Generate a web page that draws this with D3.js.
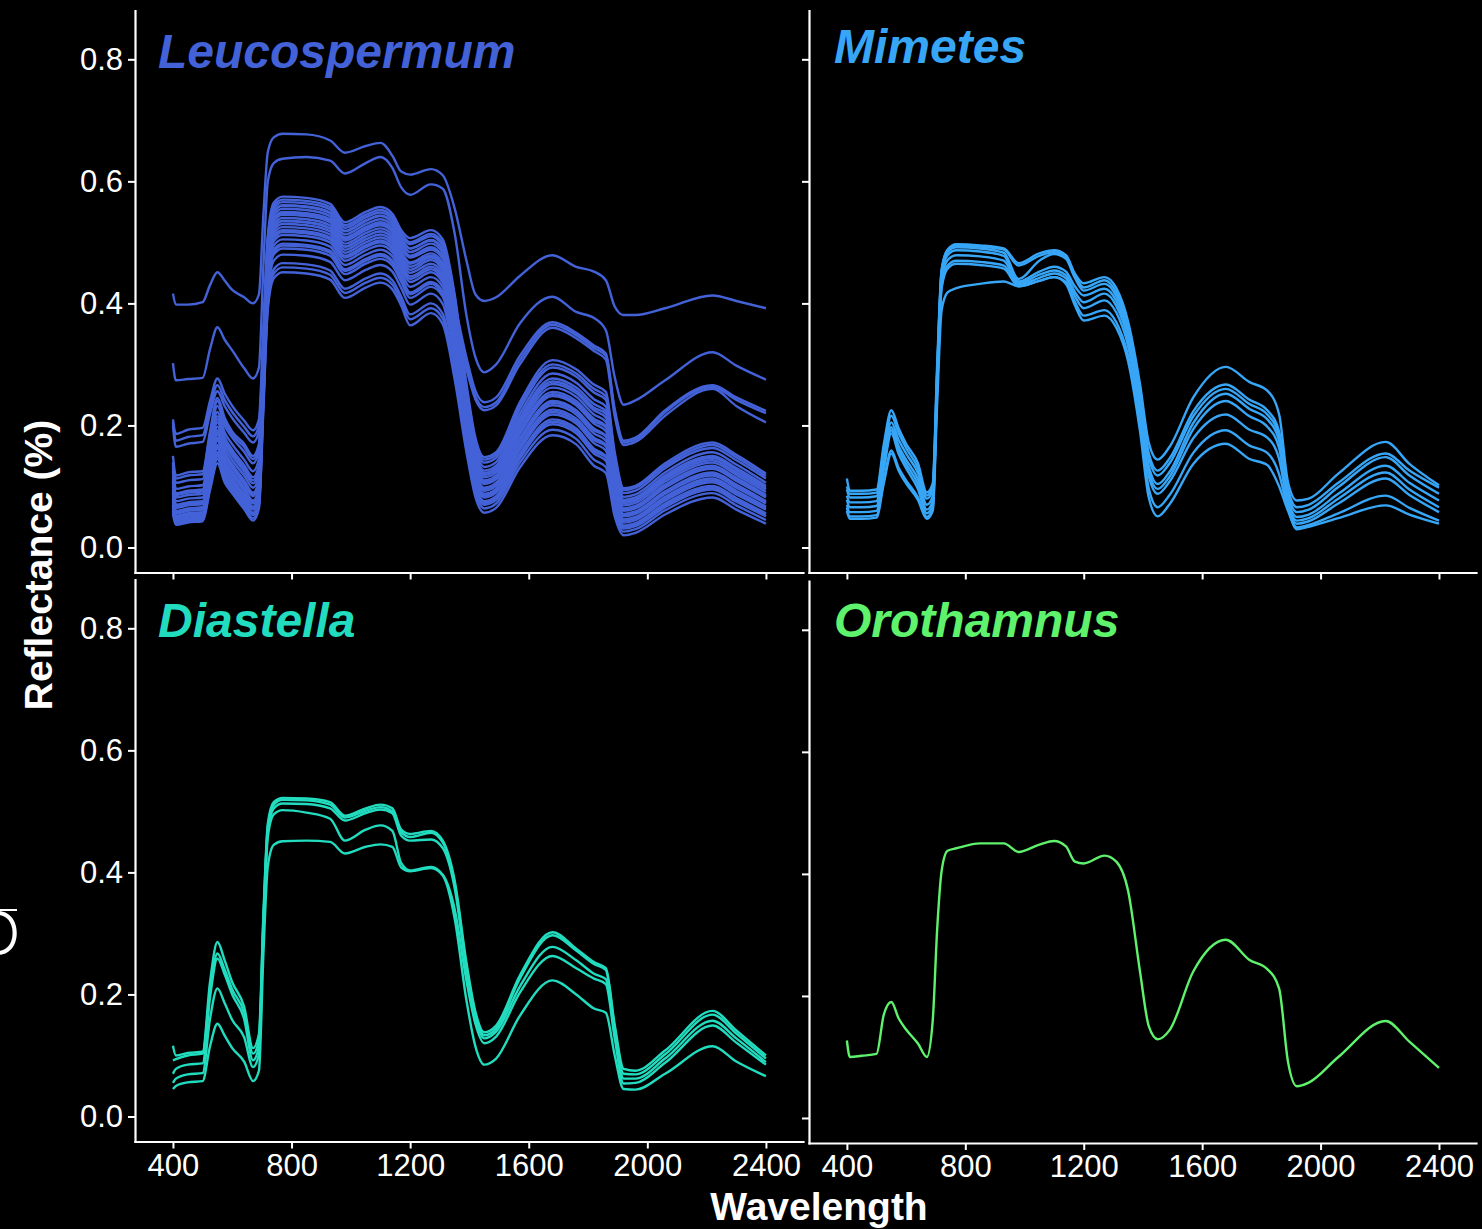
<!DOCTYPE html>
<html>
<head>
<meta charset="utf-8">
<script src="https://cdn.jsdelivr.net/npm/d3@7"></script>
<style>
  html, body { margin: 0; padding: 0; background: #000; }
  svg { display: block; }
</style>
</head>
<body>
<svg id="chart" width="1482" height="1229"></svg>
<script>
// Sampled wavelengths (nm) shared by every spectrum
const wavelengths = [400, 410, 450, 500, 525, 550, 575, 600, 640, 670,
  690, 705, 720, 740,
  770, 850, 930, 980, 1050, 1100, 1140, 1170, 1200, 1270, 1310,
  1350, 1390, 1420, 1450, 1490,
  1570, 1680, 1760, 1820, 1860,
  1890, 1920, 1960,
  2060, 2220, 2300, 2400];

const xTicks = [400, 800, 1200, 1600, 2000, 2400];
const yTicks = [0, 0.2, 0.4, 0.6, 0.8];
const genera = ["Leucospermum", "Mimetes", "Diastella", "Orothamnus"];

// Reflectance spectra, one row per leaf sample
const leucospermum = [
  [.416,.398,.398,.402,.430,.451,.437,.422,.410,.400, .415,.545,.648,.672, .678,.677,.667,.647,.658,.663,.642,.616,.611,.620,.610, .556,.470,.415,.404,.410, .445,.479,.460,.452,.438, .395,.381,.381, .392,.413,.404,.392],
  [.302,.274,.276,.278,.325,.361,.340,.323,.294,.277, .295,.460,.600,.630, .637,.640,.634,.613,.630,.640,.622,.590,.578,.595,.588, .515,.380,.312,.287,.300, .367,.411,.386,.376,.356, .279,.234,.241, .274,.320,.298,.275],
  [.210,.186,.193,.196,.240,.277,.252,.232,.208,.192, .210,.358,.505,.550, .560,.558,.548,.518,.535,.543,.532,.505,.490,.503,.488, .400,.311,.257,.238,.246, .314,.369,.352,.331,.318, .227,.175,.180, .225,.266,.246,.224],
  [.205,.175,.181,.184,.229,.266,.241,.222,.198,.182, .200,.345,.491,.535, .545,.543,.533,.503,.520,.528,.517,.490,.475,.488,.473, .385,.300,.248,.230,.238, .307,.365,.348,.327,.314, .222,.172,.177, .222,.263,.242,.220],
  [.200,.165,.170,.173,.219,.256,.231,.212,.188,.172, .190,.335,.481,.525, .535,.533,.523,.493,.510,.518,.507,.480,.465,.478,.463, .375,.292,.243,.225,.233, .300,.360,.343,.322,.308, .215,.168,.173, .216,.260,.232,.205],
  [.150,.118,.123,.125,.190,.245,.212,.190,.170,.150, .170,.341,.511,.565, .575,.573,.563,.533,.550,.558,.547,.520,.507,.520,.505, .415,.268,.180,.148,.156, .238,.307,.292,.267,.255, .156,.097,.101, .138,.172,.152,.121],
  [.130,.113,.118,.120,.185,.240,.207,.185,.165,.145, .165,.336,.506,.560, .570,.568,.558,.528,.545,.553,.542,.515,.500,.514,.499, .410,.262,.175,.144,.152, .233,.300,.285,.260,.248, .150,.094,.098, .134,.168,.148,.117],
  [.135,.106,.110,.112,.177,.232,.199,.180,.157,.138, .158,.323,.487,.538, .548,.546,.536,.506,.523,.531,.520,.493,.476,.490,.475, .385,.250,.169,.139,.147, .227,.295,.280,.254,.242, .146,.089,.093, .130,.163,.143,.113],
  [.140,.096,.100,.102,.167,.222,.188,.169,.144,.125, .145,.323,.500,.556, .566,.564,.554,.524,.541,.549,.538,.511,.497,.510,.495, .405,.255,.165,.132,.140, .219,.285,.270,.243,.231, .137,.083,.087, .123,.156,.136,.106],
  [.115,.089,.093,.095,.160,.215,.180,.160,.135,.115, .135,.302,.468,.520, .530,.528,.518,.488,.505,.513,.502,.475,.455,.471,.455, .365,.234,.155,.126,.134, .212,.277,.262,.235,.223, .131,.078,.082, .118,.150,.130,.101],
  [.105,.086,.090,.092,.156,.210,.175,.155,.130,.110, .130,.312,.494,.551, .561,.559,.549,.519,.536,.544,.533,.506,.490,.504,.489, .399,.248,.158,.122,.130, .208,.272,.257,.229,.219, .129,.076,.080, .115,.147,.127,.098],
  [.125,.082,.086,.088,.151,.205,.170,.150,.125,.105, .125,.308,.488,.545, .555,.553,.543,.513,.530,.538,.527,.500,.484,.498,.483, .393,.242,.152,.119,.127, .204,.268,.253,.225,.213, .123,.073,.077, .112,.143,.123,.095],
  [.100,.076,.080,.082,.145,.198,.163,.143,.118,.098, .118,.288,.457,.510, .520,.518,.508,.478,.495,.503,.492,.465,.444,.460,.443, .353,.222,.144,.115,.123, .199,.262,.247,.218,.206, .118,.069,.073, .108,.139,.119,.091],
  [.110,.070,.074,.076,.139,.192,.156,.136,.110,.090, .110,.293,.473,.530, .540,.538,.528,.498,.515,.523,.512,.485,.467,.482,.466, .376,.230,.142,.110,.118, .193,.255,.240,.211,.199, .112,.064,.068, .103,.134,.114,.086],
  [.090,.068,.072,.074,.136,.188,.153,.133,.107,.087, .107,.290,.475,.540, .550,.548,.538,.508,.525,.533,.522,.495,.478,.492,.477, .387,.228,.140,.107,.115, .190,.251,.236,.207,.197, .110,.062,.066, .100,.131,.111,.084],
  [.085,.065,.069,.071,.133,.185,.150,.130,.104,.084, .104,.273,.442,.495, .505,.503,.493,.463,.480,.488,.477,.450,.427,.443,.427, .337,.209,.132,.104,.112, .186,.248,.233,.203,.191, .106,.060,.064, .098,.129,.109,.082],
  [.095,.060,.064,.066,.127,.180,.144,.124,.098,.077, .097,.279,.458,.515, .525,.523,.513,.483,.500,.508,.497,.470,.450,.465,.449, .359,.215,.129,.098,.106, .179,.240,.225,.195,.183, .099,.055,.059, .092,.123,.103,.076],
  [.070,.058,.062,.064,.125,.178,.142,.122,.096,.075, .095,.283,.465,.525, .535,.533,.523,.493,.510,.518,.507,.480,.460,.475,.459, .369,.213,.126,.096,.104, .176,.237,.222,.192,.182, .097,.053,.057, .090,.121,.101,.074],
  [.075,.056,.060,.062,.123,.175,.139,.119,.093,.072, .092,.262,.432,.485, .495,.493,.483,.453,.470,.478,.467,.440,.415,.432,.415, .325,.197,.121,.093,.101, .173,.233,.218,.187,.175, .093,.051,.055, .088,.118,.098,.072],
  [.090,.052,.056,.058,.117,.168,.133,.113,.087,.067, .087,.267,.445,.502, .512,.510,.500,.470,.487,.495,.484,.457,.435,.451,.434, .344,.203,.119,.088,.096, .167,.226,.211,.180,.168, .087,.046,.050, .083,.113,.093,.067],
  [.062,.050,.054,.056,.115,.165,.130,.111,.085,.065, .085,.270,.449,.507, .517,.515,.505,.475,.492,.500,.489,.462,.440,.456,.439, .349,.199,.115,.085,.093, .163,.222,.207,.176,.166, .084,.044,.048, .080,.110,.090,.065],
  [.065,.048,.052,.054,.112,.162,.127,.108,.082,.062, .082,.250,.417,.470, .480,.478,.468,.438,.455,.463,.452,.425,.398,.416,.399, .309,.184,.109,.082,.090, .160,.218,.203,.171,.159, .080,.041,.045, .077,.107,.087,.062],
  [.080,.045,.049,.051,.108,.156,.121,.103,.077,.057, .077,.255,.432,.488, .498,.496,.486,.456,.473,.481,.470,.443,.418,.435,.419, .329,.190,.106,.076,.084, .153,.210,.195,.162,.150, .073,.036,.040, .072,.101,.081,.056],
  [.058,.043,.047,.049,.105,.153,.119,.100,.075,.055, .075,.250,.424,.480, .490,.488,.478,.448,.465,.473,.462,.435,.409,.427,.411, .321,.182,.102,.073,.081, .150,.206,.191,.158,.148, .070,.034,.038, .069,.098,.078,.054],
  [.060,.042,.046,.048,.103,.150,.116,.098,.072,.053, .073,.239,.404,.456, .466,.464,.454,.424,.441,.449,.438,.411,.382,.400,.383, .293,.170,.097,.070,.078, .146,.202,.187,.154,.142, .067,.031,.035, .066,.095,.075,.051],
  [.070,.039,.043,.045,.099,.145,.111,.093,.067,.048, .068,.233,.397,.449, .459,.457,.447,.417,.434,.442,.431,.404,.374,.392,.375, .285,.163,.091,.064,.072, .139,.193,.178,.144,.132, .059,.026,.030, .061,.089,.069,.045],
  [.055,.037,.041,.043,.094,.138,.106,.089,.063,.044, .064,.227,.390,.441, .451,.449,.439,.409,.426,.434,.423,.396,.364,.384,.366, .276,.156,.083,.057,.065, .131,.184,.169,.134,.122, .051,.020,.024, .054,.082,.062,.039]
];

const mimetes = [
  [.113,.093,.093,.095,.170,.225,.195,.170,.138,.090, .105,.300,.455,.488, .497,.495,.490,.466,.482,.487,.479,.449,.433,.443,.425, .370,.268,.171,.144,.165, .246,.296,.271,.257,.218, .107,.077,.080, .121,.173,.137,.102],
  [.100,.088,.088,.090,.162,.216,.187,.163,.130,.085, .100,.290,.454,.487, .495,.493,.488,.462,.478,.484,.476,.446,.426,.438,.418, .363,.256,.154,.126,.146, .223,.267,.242,.225,.190, .096,.066,.070, .106,.154,.126,.098],
  [.095,.082,.082,.084,.152,.205,.176,.154,.122,.080, .094,.286,.451,.484, .492,.490,.483,.440,.470,.481,.473,.442,.421,.432,.412, .357,.249,.147,.118,.138, .215,.260,.235,.218,.183, .088,.058,.062, .099,.148,.118,.088],
  [.085,.074,.074,.076,.143,.197,.166,.144,.112,.070, .084,.279,.445,.479, .487,.485,.478,.436,.452,.460,.452,.428,.413,.424,.404, .349,.239,.133,.104,.124, .204,.252,.227,.210,.175, .080,.050,.054, .088,.134,.106,.077],
  [.078,.066,.066,.068,.135,.192,.160,.137,.104,.062, .076,.271,.437,.471, .479,.477,.470,.433,.447,.454,.446,.419,.402,.416,.396, .341,.231,.125,.096,.116, .194,.240,.215,.198,.163, .074,.044,.048, .080,.123,.095,.066],
  [.070,.058,.058,.060,.128,.187,.153,.130,.096,.056, .070,.263,.429,.462, .470,.468,.462,.430,.442,.449,.441,.412,.392,.405,.385, .330,.221,.117,.088,.108, .179,.218,.193,.180,.145, .069,.039,.043, .072,.113,.086,.058],
  [.065,.051,.051,.053,.110,.159,.130,.110,.082,.050, .064,.258,.425,.457, .465,.463,.457,.428,.437,.443,.435,.403,.380,.389,.369, .314,.202,.096,.066,.086, .155,.192,.167,.155,.120, .063,.033,.037, .056,.085,.065,.044],
  [.060,.047,.047,.049,.106,.154,.126,.105,.078,.047, .060,.237,.389,.418, .425,.432,.436,.428,.437,.443,.432,.397,.372,.380,.360, .305,.191,.081,.051,.071, .137,.170,.145,.135,.100, .060,.030,.034, .048,.069,.054,.039]
];

const diastella = [
  [.116,.100,.104,.106,.220,.286,.255,.220,.180,.112, .135,.330,.480,.515, .522,.521,.515,.493,.505,.511,.505,.470,.463,.468,.452, .387,.252,.172,.138,.149, .231,.302,.275,.253,.243, .150,.078,.075, .108,.173,.141,.100],
  [.092,.094,.100,.103,.205,.267,.240,.208,.170,.103, .125,.322,.475,.511, .519,.518,.511,.490,.501,.507,.500,.466,.458,.465,.449, .382,.246,.167,.133,.144, .226,.297,.272,.250,.240, .145,.070,.069, .102,.167,.136,.095],
  [.070,.078,.085,.087,.195,.259,.232,.200,.160,.092, .115,.315,.468,.505, .513,.512,.505,.485,.497,.503,.497,.460,.452,.454,.440, .375,.240,.162,.128,.139, .213,.278,.256,.234,.225, .137,.062,.062, .095,.157,.128,.089],
  [.055,.062,.069,.071,.160,.210,.185,.158,.130,.081, .102,.305,.458,.495, .502,.498,.488,.452,.470,.477,.468,.415,.403,.409,.396, .340,.222,.152,.120,.131, .203,.263,.243,.226,.217, .128,.054,.055, .088,.149,.121,.085],
  [.045,.050,.056,.058,.115,.152,.132,.112,.090,.058, .075,.265,.410,.445, .451,.452,.450,.431,.442,.446,.442,.408,.402,.407,.395, .325,.190,.115,.085,.095, .165,.223,.200,.177,.170, .100,.045,.044, .070,.115,.090,.066]
];

const orothamnus = [
  [.127,.100,.102,.105,.170,.190,.163,.145,.122,.100, .160,.310,.405,.438, .442,.450,.450,.436,.448,.454,.445,.420,.417,.430,.420, .372,.240,.150,.129,.144, .240,.292,.259,.244,.212, .092,.052,.058, .100,.159,.125,.082]
];

const spectraByGenus = [leucospermum, mimetes, diastella, orothamnus];
const genusColors = ["#4462d8", "#38a6f7", "#22dcbf", "#5ff26c"];

// Facet layout (pixel boxes of the four panels)
const panels = [
  { x0: 135, x1: 803,  y0: 10.5,  y1: 572.5,  yLabels: true,  xLabels: false, tx: 158, ty: 68 },
  { x0: 809, x1: 1476, y0: 10.5,  y1: 572.5,  yLabels: false, xLabels: false, tx: 834, ty: 63 },
  { x0: 135, x1: 803,  y0: 579.5, y1: 1141.5, yLabels: true,  xLabels: true,  tx: 158, ty: 637 },
  { x0: 809, x1: 1476, y0: 581,   y1: 1143,   yLabels: false, xLabels: true,  tx: 834, ty: 637 }
];

const FONT = "'Liberation Sans', Arial, Helvetica, sans-serif";
const svg = d3.select("#chart");
svg.append("rect").attr("width", 1482).attr("height", 1229).attr("fill", "#000");

panels.forEach((p, i) => {
  const x = d3.scaleLinear().domain([272, 2525]).range([p.x0, p.x1]);
  const y = d3.scaleLinear().domain([-0.041, 0.880]).range([p.y1, p.y0]);
  const g = svg.append("g");

  const line = d3.line()
    .x((d, k) => x(wavelengths[k]))
    .y(d => y(d))
    .curve(d3.curveMonotoneX);

  g.append("g").selectAll("path")
    .data(spectraByGenus[i])
    .join("path")
    .attr("d", line)
    .attr("fill", "none")
    .attr("stroke", genusColors[i])
    .attr("stroke-width", 2.4)
    .attr("stroke-linejoin", "round");

  const yAxis = d3.axisLeft(y).tickValues(yTicks).tickSize(7).tickSizeOuter(0).tickPadding(5)
    .tickFormat(p.yLabels ? d3.format(".1f") : () => "");
  const xAxis = d3.axisBottom(x).tickValues(xTicks).tickSize(7).tickSizeOuter(0).tickPadding(5)
    .tickFormat(p.xLabels ? d3.format("d") : () => "");

  const ya = g.append("g").attr("transform", `translate(${p.x0},0)`).call(yAxis);
  const xa = g.append("g").attr("transform", `translate(0,${p.y1})`).call(xAxis);
  [ya, xa].forEach(a => {
    a.select(".domain").attr("stroke", "#fff").attr("stroke-width", 2.2).attr("stroke-linecap", "square");
    a.selectAll(".tick line").attr("stroke", "#fff").attr("stroke-width", 2);
    a.selectAll(".tick text").attr("fill", "#fff").style("font-family", FONT).style("font-size", "31px");
  });

  g.append("text")
    .attr("x", p.tx).attr("y", p.ty)
    .attr("fill", genusColors[i])
    .style("font-family", FONT)
    .style("font-size", "48px")
    .style("font-weight", "bold")
    .style("font-style", "italic")
    .text(genera[i]);
});

svg.append("text")
  .attr("transform", "translate(52,565) rotate(-90)")
  .attr("text-anchor", "middle")
  .attr("fill", "#fff")
  .style("font-family", FONT)
  .style("font-size", "39px")
  .style("font-weight", "bold")
  .text("Reflectance (%)");

svg.append("text")
  .attr("x", 819).attr("y", 1220)
  .attr("text-anchor", "middle")
  .attr("fill", "#fff")
  .style("font-family", FONT)
  .style("font-size", "39px")
  .style("font-weight", "bold")
  .text("Wavelength");

// Clipped glyph at the left margin
svg.append("text")
  .attr("x", -25).attr("y", 955)
  .attr("fill", "#fff")
  .style("font-family", "Inter, 'DejaVu Sans', sans-serif")
  .style("font-size", "60px")
  .style("font-weight", "300")
  .text("O");
svg.append("line")
  .attr("x1", 0).attr("x2", 17).attr("y1", 910).attr("y2", 910)
  .attr("stroke", "#fff").attr("stroke-width", 2);
</script>
</body>
</html>
